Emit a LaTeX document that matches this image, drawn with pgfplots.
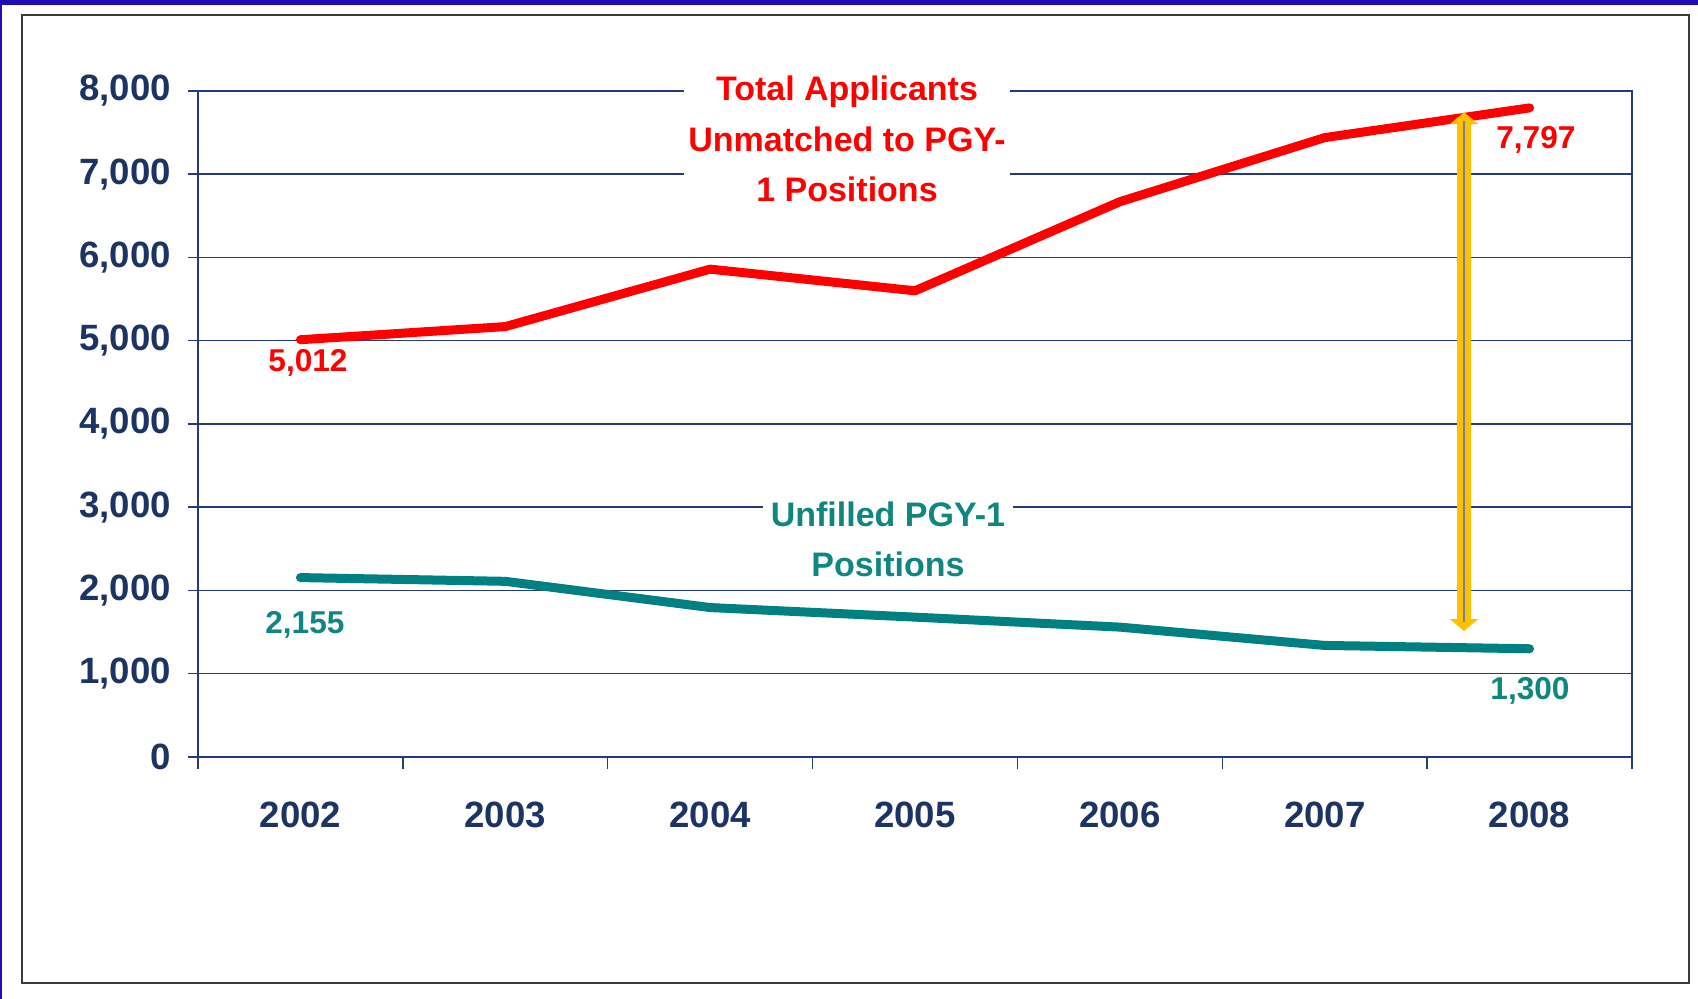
\documentclass[border=0pt]{standalone}
\usepackage{fontspec}
\setmainfont{Liberation Sans}
\usepackage{pgfplots}
\pgfplotsset{compat=1.18}
\usetikzlibrary{arrows.meta}
\definecolor{navy}{RGB}{28,52,100}
\definecolor{gridc}{RGB}{35,58,125}
\definecolor{tealc}{RGB}{0,128,128}
\definecolor{tealtxt}{RGB}{15,135,128}
\definecolor{gold}{RGB}{255,192,0}
\definecolor{framec}{RGB}{60,60,60}
\definecolor{bluec}{RGB}{32,12,180}
\begin{document}
\begin{tikzpicture}
\path[use as bounding box] (0,0) rectangle (849pt,499.5pt);
\fill[white] (0,0) rectangle (849pt,499.5pt);
\fill[bluec] (0,497pt) rectangle (849pt,499.5pt);
\fill[bluec] (0,0) rectangle (1.2pt,499.5pt);
\draw[framec, line width=1pt] (11pt,8pt) rectangle (844.5pt,492pt);
\begin{axis}[
  at={(99pt,121pt)}, anchor=south west,
  scale only axis, width=717pt, height=333pt,
  xmin=-0.5, xmax=6.5, ymin=0, ymax=8000,
  xtick={0,1,2,3,4,5,6},
  xticklabels={2002,2003,2004,2005,2006,2007,2008},
  minor xtick={-0.5,0.5,1.5,2.5,3.5,4.5,5.5,6.5},
  ytick={0,1000,2000,3000,4000,5000,6000,7000,8000},
  scaled y ticks=false,
  yticklabel style={/pgf/number format/1000 sep={,}, xshift=-5pt},
  xticklabel style={yshift=-14pt},
  xtick pos=bottom, ytick pos=left,
  tick align=outside,
  major tick length=5pt, minor tick length=6pt,
  major x tick style={draw=none},
  minor x tick style={gridc, line width=0.75pt},
  ymajorgrids=true,
  grid style={gridc, line width=0.75pt},
  axis line style={gridc, line width=0.75pt},
  tick style={gridc, line width=0.75pt},
  ticklabel style={font=\fontsize{18.3}{20}\selectfont\bfseries, text=navy},
  /pgf/number format/assume math mode=true,
  clip=false,
]
\addplot[red, line width=4.5pt, line join=round, line cap=round] coordinates {
  (0,5012) (1,5170) (2,5860) (3,5600) (4,6670) (5,7440) (6,7797)};
\addplot[tealc, line width=4.5pt, line join=round, line cap=round] coordinates {
  (0,2155) (1,2110) (2,1795) (3,1680) (4,1560) (5,1340) (6,1300)};
\node[text=red, font=\fontsize{15.8}{18}\selectfont\bfseries] at (axis cs:0.037,4733) {5,012};
\node[text=tealtxt, font=\fontsize{15.8}{18}\selectfont\bfseries] at (axis cs:0.022,1585) {2,155};
\node[text=red, font=\fontsize{15.8}{18}\selectfont\bfseries] at (axis cs:6.031,7411) {7,797};
\node[text=tealtxt, font=\fontsize{15.8}{18}\selectfont\bfseries] at (axis cs:6.002,793) {1,300};
\node[fill=white, text=red, align=center, inner xsep=2pt, inner ysep=5pt,
  font=\fontsize{17}{25.2}\selectfont\bfseries] at (axis cs:2.668,7424)
  {Total Applicants\\Unmatched to PGY-\\1 Positions};
\node[fill=white, text=tealtxt, align=center, inner xsep=4pt, inner ysep=6pt,
  font=\fontsize{17}{25.2}\selectfont\bfseries] at (axis cs:2.868,2613)
  {Unfilled PGY-1\\Positions};
\draw[gold, line width=7pt, {Triangle[width=14pt,length=6pt]}-{Triangle[width=14pt,length=6pt]}]
  (axis cs:5.68,1513) -- (axis cs:5.68,7745);
\draw[gridc!65, line width=0.8pt] (axis cs:5.68,1620) -- (axis cs:5.68,7640);
\end{axis}
\end{tikzpicture}
\end{document}
